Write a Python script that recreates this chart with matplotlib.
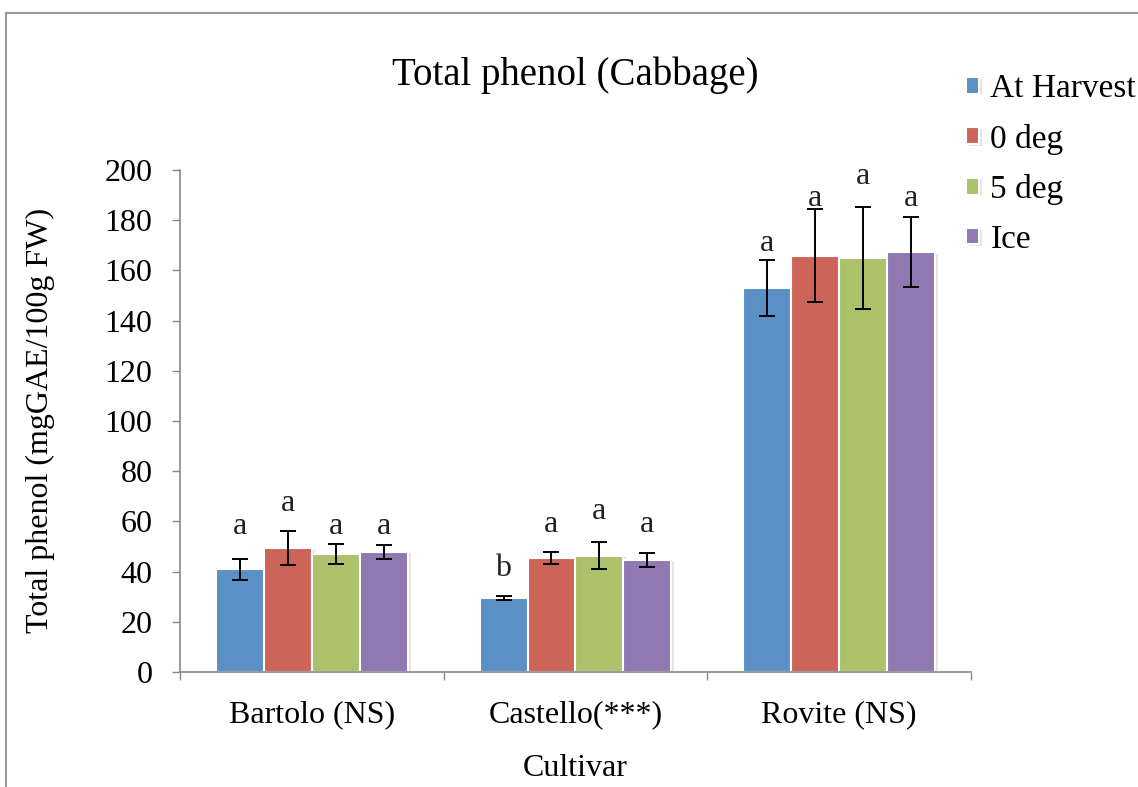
import numpy as np
import matplotlib
matplotlib.use('Agg')
import matplotlib.pyplot as plt
import matplotlib.patheffects as pe
from matplotlib.lines import Line2D

# data
cultivars = ['Bartolo (NS)', 'Castello(***)', 'Rovite (NS)']
treatments = ['At Harvest', '0 deg', '5 deg', 'Ice']
colors = ['#5b90c6', '#cc645a', '#abc26a', '#8f79b0']

at_harvest = [41.0, 29.4, 153.0]
deg0 = [49.3, 45.3, 165.9]
deg5 = [47.0, 46.3, 164.8]
ice = [47.8, 44.6, 167.2]

err_at_harvest = [4.2, 0.9, 11.2]
err_deg0 = [6.8, 2.4, 18.6]
err_deg5 = [4.0, 5.3, 20.4]
err_ice = [2.8, 2.9, 13.9]

letters_at_harvest = ['a', 'b', 'a']
letters_deg0 = ['a', 'a', 'a']
letters_deg5 = ['a', 'a', 'a']
letters_ice = ['a', 'a', 'a']

# heights where the significance letters sit
letter_y_at_harvest = [57.8, 41.4, 170.8]
letter_y_deg0 = [67.3, 58.6, 188.7]
letter_y_deg5 = [57.8, 63.9, 197.3]
letter_y_ice = [57.8, 58.6, 188.7]

values = [at_harvest, deg0, deg5, ice]
errors = [err_at_harvest, err_deg0, err_deg5, err_ice]
letters = [letters_at_harvest, letters_deg0, letters_deg5, letters_ice]
letter_y = [letter_y_at_harvest, letter_y_deg0, letter_y_deg5, letter_y_ice]

plt.rcParams['font.family'] = ['Liberation Serif', 'DejaVu Serif']
fs = 23

fig = plt.figure(figsize=(11.38, 7.87), dpi=100)
ax = fig.add_axes([0.1582, 0.1461, 0.695, 0.638])

# grey frame round the chart area
fig.add_artist(Line2D([6/1138, 1.0], [1-13/787, 1-13/787], transform=fig.transFigure,
                      color='#9a9a9a', lw=1.5))
fig.add_artist(Line2D([6/1138, 6/1138], [0.0, 1-13/787], transform=fig.transFigure,
                      color='#9a9a9a', lw=1.5))

x = np.arange(len(cultivars))
pitch = 0.182
shadow = [pe.SimplePatchShadow(offset=(2, -1), shadow_rgbFace='#999999', alpha=0.25), pe.Normal()]
for i in range(len(treatments)):
    xpos = x + (i - 1.5) * pitch
    bars = ax.bar(xpos, values[i], width=pitch, color=colors[i], edgecolor='white',
                  linewidth=1.5, label=treatments[i], zorder=2)
    for b in bars:
        b.set_path_effects(shadow)
    ax.errorbar(xpos, values[i], yerr=errors[i], fmt='none', ecolor='black',
                elinewidth=1.4, capsize=5.5, capthick=1.4, zorder=3)
    for j in range(len(cultivars)):
        ax.text(xpos[j], letter_y[i][j], letters[i][j], ha='center', va='center',
                fontsize=fs, color='#222222')

ax.set_xlim(-0.5, 2.5)
ax.set_ylim(0, 200)
ax.set_yticks(range(0, 201, 20))
ax.tick_params(axis='y', labelsize=fs, length=6, width=1, color='#888888', pad=14)
ax.set_xticks([-0.5, 0.5, 1.5, 2.5], minor=False)
ax.set_xticklabels([])
ax.tick_params(axis='x', length=6, width=1, color='#888888')
ax.set_xticks(x, minor=True)
ax.set_xticklabels(cultivars, minor=True)
ax.tick_params(axis='x', which='minor', length=0, labelsize=fs, pad=20)

for s in ['top', 'right']:
    ax.spines[s].set_visible(False)
for s in ['left', 'bottom']:
    ax.spines[s].set_color('#888888')
    ax.spines[s].set_linewidth(1.2)

fig.text(40/1138, 1-420/787, 'Total phenol (mgGAE/100g FW)', rotation=90,
         ha='center', va='center', fontsize=fs)
fig.text(0.5055, 1-768/787, 'Cultivar', ha='center', va='center', fontsize=fs)
fig.text(0.5055, 1-75/787, 'Total phenol (Cabbage)', ha='center', va='center', fontsize=28)

fig.legend(loc='upper left', bbox_to_anchor=(0.849, 0.906), frameon=False, fontsize=24,
           handlelength=0.4, handleheight=0.4, handletextpad=0.33, labelspacing=0.58,
           borderpad=0, borderaxespad=0)

fig.savefig('out.png', dpi=100)
